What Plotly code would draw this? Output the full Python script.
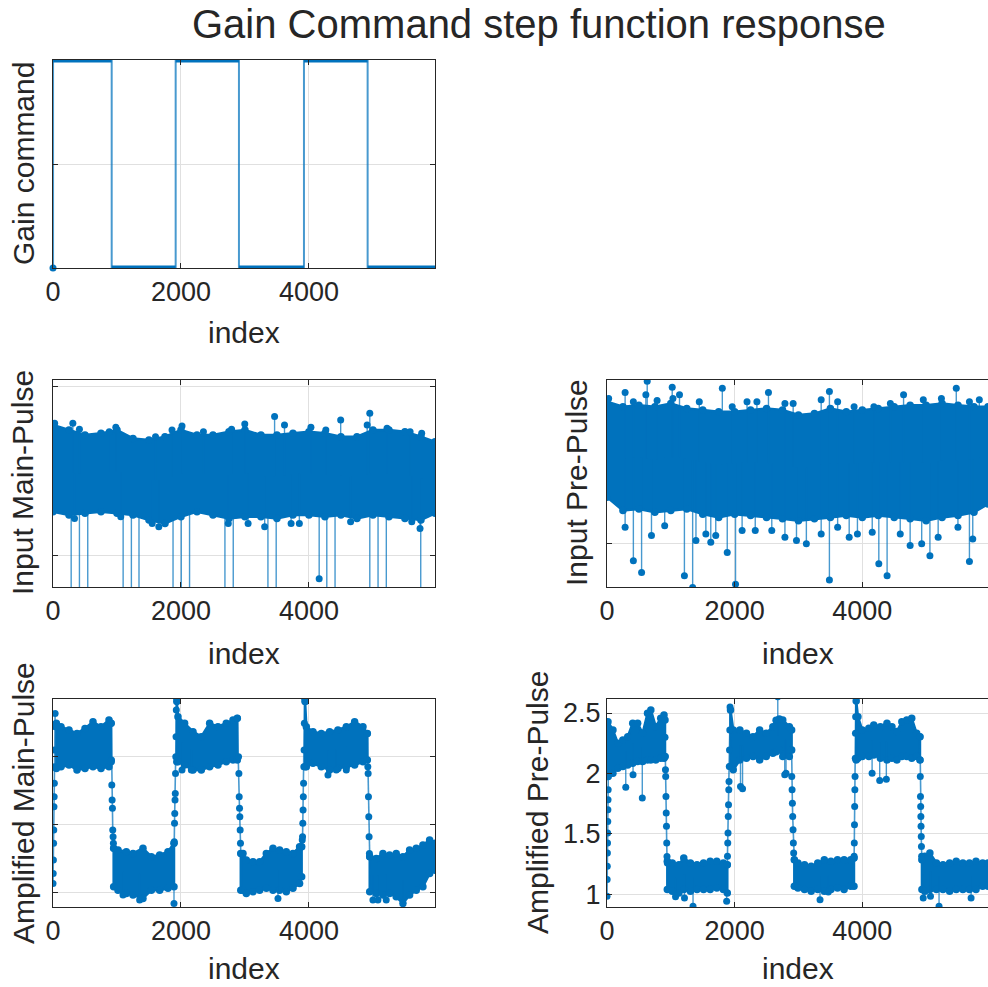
import numpy as np
import plotly.graph_objects as go

# ---------------- data ----------------
N_SAMPLES = 5970
x_tick_vals = [0, 2000, 4000]
x_tick_labels = ["0", "2000", "4000"]

# Panel 1: gain command (segment start index and level)
cmd_change_idx = [0, 1, 917, 1917, 2906, 3922, 4917]
cmd_level = [0, 1, 0, 1, 0, 1, 0]

# Panel 2: Input Main-Pulse (core band envelope)
in_main_idx = [0, 250, 500, 750, 1000, 1250, 1500, 1750, 2000, 2250, 2500, 2750, 3000,
               3250, 3500, 3750, 4000, 4250, 4500, 4750, 5000, 5250, 5500, 5750, 5970]
in_main_hi = [0.887, 0.872, 0.857, 0.862, 0.872, 0.847, 0.842, 0.852, 0.872, 0.857, 0.857, 0.867, 0.872,
              0.857, 0.857, 0.862, 0.867, 0.862, 0.852, 0.852, 0.872, 0.872, 0.867, 0.852, 0.837]
in_main_lo = [0.629, 0.619, 0.624, 0.629, 0.624, 0.619, 0.604, 0.594, 0.614, 0.629, 0.619, 0.609, 0.614,
              0.614, 0.609, 0.619, 0.619, 0.614, 0.619, 0.609, 0.619, 0.614, 0.609, 0.604, 0.624]
in_main_out_idx = [26, 310, 413, 879, 982, 1602, 1860, 2016, 2351, 2791, 2997, 3463, 3618, 4031, 4264,
                   4496, 4910, 4951, 5220, 5581, 5762,
                   336, 1059, 1550, 1654, 2739, 3049, 3308, 3721, 3850, 4651, 5607, 5736]
in_main_out_val = [0.892, 0.892, 0.874, 0.867, 0.880, 0.852, 0.872, 0.884, 0.867, 0.874, 0.890, 0.912, 0.887,
                   0.880, 0.872, 0.902, 0.887, 0.922, 0.877, 0.867, 0.862,
                   0.609, 0.614, 0.594, 0.584, 0.594, 0.594, 0.584, 0.594, 0.594, 0.599, 0.599, 0.579]
in_main_spike_idx = [284, 413, 543, 1096, 1225, 1344, 1876, 2005, 2134, 2687, 2817, 3359, 3488,
                     4160, 4279, 4408, 4951, 5080, 5209, 5747]
in_main_spike_val = [0.0, 0.0, 0.0, 0.0, 0.0, 0.0, 0.0, 0.0, 0.0, 0.0, 0.0, 0.0, 0.0,
                     0.429, 0.0, 0.0, 0.0, 0.0, 0.0, 0.0]

# Panel 3: Input Pre-Pulse
in_pre_idx = in_main_idx
in_pre_hi = [0.893, 0.879, 0.883, 0.879, 0.888, 0.874, 0.870, 0.865, 0.865, 0.870, 0.874, 0.870, 0.856,
             0.860, 0.874, 0.865, 0.870, 0.874, 0.879, 0.883, 0.883, 0.888, 0.883, 0.879, 0.879]
in_pre_lo = [0.629, 0.592, 0.596, 0.587, 0.592, 0.596, 0.582, 0.573, 0.582, 0.578, 0.573, 0.569, 0.564,
             0.569, 0.573, 0.578, 0.573, 0.578, 0.573, 0.569, 0.564, 0.573, 0.578, 0.587, 0.610]
in_pre_out_idx = [26, 284, 413, 609, 630, 785, 1022, 1033, 1136, 1446, 1807, 1962, 2194, 2349, 2530,
                  2788, 2917, 3356, 3485, 3614, 3872, 4182, 4440, 4647, 4956, 5240, 5473, 5679, 5834,
                  284, 413, 542, 697, 904, 1213, 1342, 1394, 1549, 1626, 1704, 1884, 2014, 2117, 2323,
                  2582, 2788, 2969, 3124, 3356, 3485, 3614, 3795, 3924, 4156, 4259, 4389, 4595, 4750,
                  4931, 5060, 5189, 5499, 5679, 5731]
in_pre_out_val = [0.902, 0.918, 0.893, 0.912, 0.949, 0.896, 0.933, 0.902, 0.912, 0.893, 0.930, 0.879,
                  0.893, 0.893, 0.918, 0.888, 0.888, 0.898, 0.921, 0.893, 0.879, 0.879, 0.888, 0.912,
                  0.898, 0.902, 0.930, 0.893, 0.898,
                  0.546, 0.453, 0.421, 0.523, 0.550, 0.412, 0.379, 0.509, 0.527, 0.504, 0.523, 0.476,
                  0.388, 0.537, 0.537, 0.537, 0.518, 0.509, 0.500, 0.527, 0.400, 0.546, 0.518, 0.527,
                  0.532, 0.445, 0.412, 0.527, 0.495, 0.500, 0.467, 0.518, 0.546, 0.451, 0.513]

# Panel 4: Amplified Main-Pulse (segments separated by None)
am_idx = [52, 125, 250, 375, 500, 625, 750, 875, 909, None,
          948, 1016, 1146, 1250, 1406, 1537, 1667, 1797, 1891, None,
          1935, 1953, 2057, 2188, 2318, 2448, 2578, 2708, 2813, 2880, None,
          2935, 2969, 3021, 3125, 3229, 3334, 3438, 3542, 3646, 3750, 3854, 3886, None,
          3940, 3959, 4063, 4193, 4323, 4453, 4584, 4714, 4844, 4912, None,
          4950, 5052, 5156, 5260, 5364, 5469, 5573, 5677, 5781, 5886, 5970]
am_hi = [2.240, 2.215, 2.191, 2.166, 2.203, 2.252, 2.215, 2.264, 2.240, None,
         1.321, 1.309, 1.296, 1.284, 1.321, 1.260, 1.272, 1.296, 1.358, None,
         2.400, 2.289, 2.240, 2.179, 2.142, 2.240, 2.215, 2.240, 2.264, 2.277, None,
         1.284, 1.284, 1.235, 1.223, 1.223, 1.284, 1.321, 1.309, 1.296, 1.284, 1.333, 1.333, None,
         2.400, 2.215, 2.179, 2.166, 2.179, 2.191, 2.215, 2.252, 2.215, 2.166, None,
         1.260, 1.247, 1.284, 1.272, 1.284, 1.260, 1.309, 1.321, 1.345, 1.382, 1.358]
am_lo = [1.909, 1.921, 1.934, 1.897, 1.909, 1.921, 1.909, 1.921, 1.958, None,
         1.039, 1.014, 0.990, 0.978, 0.953, 1.014, 1.014, 1.027, 1.039, None,
         1.958, 1.958, 1.934, 1.897, 1.897, 1.921, 1.934, 1.958, 1.970, 1.970, None,
         1.014, 1.014, 0.990, 1.002, 1.014, 1.027, 1.014, 1.014, 1.002, 1.027, 1.063, 1.112, None,
         1.921, 1.921, 1.946, 1.921, 1.897, 1.909, 1.921, 1.934, 1.958, 1.970, None,
         1.002, 0.990, 0.978, 0.990, 0.965, 0.916, 0.978, 1.014, 1.039, 1.137, 1.161]
am_tr_idx = [0, 3, 6, 9, 12, 15, 18, 21, 24, 27, 30, 33, None,
             909, 914, 919, 924, 929, 934, 939, 944, 948, None,
             1891, 1895, 1899, 1903, 1907, 1911, 1915, 1919, 1923, 1927, 1931, None,
             2880, 2900, 2905, 2910, 2915, 2920, 2925, 2930, 2935, None,
             3886, 3895, 3900, 3904, 3908, 3912, 3916, 3920, 3924, 3928, 3932, 3940, None,
             4912, 4920, 4925, 4930, 4935, 4940, 4945, 4950]
am_tr_val = [1.063, 1.137, 1.235, 1.358, 1.456, 1.627, 1.701, 1.799, 1.921, 2.044, 2.215, 2.313, None,
             2.240, 1.970, 1.786, 1.676, 1.615, 1.456, 1.407, 1.358, 1.321, None,
             1.358, 1.370, 1.505, 1.578, 1.676, 1.725, 1.872, 1.995, 2.142, 2.338, 2.424, None,
             2.277, 1.995, 1.872, 1.701, 1.615, 1.554, 1.456, 1.358, 1.284, None,
             1.333, 1.382, 1.407, 1.505, 1.603, 1.701, 1.799, 1.921, 2.044, 2.240, 2.424, 2.400, None,
             2.166, 1.921, 1.872, 1.701, 1.554, 1.407, 1.284, 1.260]
am_out_idx = [1094, 1354, 1891, 2016, 2162, 3516, 4297, 4427, 4584, 5000, 5078, 5208, 5469]
am_out_val = [0.978, 0.941, 0.916, 1.897, 1.897, 0.953, 1.860, 1.897, 1.897, 0.941, 0.941, 0.941, 0.867]

# Panel 5: Amplified Pre-Pulse
ap_idx = [15, 93, 170, 248, 325, 403, 480, 558, 635, 687, 764, 842, 893, 909, None,
          945, 1023, 1126, 1203, 1307, 1410, 1513, 1617, 1720, 1823, 1885, None,
          1935, 1978, 2082, 2185, 2288, 2392, 2495, 2599, 2650, 2700, 2754, 2857, 2893, None,
          2935, 2992, 3095, 3199, 3302, 3405, 3509, 3612, 3715, 3819, 3870, None,
          3905, 3932, 4000, 4103, 4180, 4284, 4387, 4465, 4542, 4620, 4697, 4775, 4852, 4904, None,
          4935, 4981, 5059, 5162, 5265, 5369, 5472, 5576, 5679, 5782, 5886, 5970]
ap_hi = [2.428, 2.359, 2.249, 2.277, 2.304, 2.415, 2.415, 2.332, 2.497, 2.525, 2.387, 2.456, 2.483, 2.442, None,
         1.271, 1.257, 1.244, 1.299, 1.257, 1.244, 1.257, 1.271, 1.271, 1.257, 1.244, None,
         2.525, 2.359, 2.359, 2.332, 2.304, 2.359, 2.332, 2.387, 2.440, 2.450, 2.442, 2.387, 2.359, None,
         1.285, 1.257, 1.244, 1.230, 1.257, 1.285, 1.271, 1.285, 1.285, 1.285, 1.299, None,
         2.600, 2.470, 2.359, 2.373, 2.401, 2.387, 2.415, 2.387, 2.346, 2.428, 2.442, 2.456, 2.332, 2.304, None,
         1.285, 1.313, 1.340, 1.257, 1.244, 1.257, 1.271, 1.257, 1.257, 1.271, 1.257, 1.257]
ap_lo = [1.974, 2.001, 2.043, 2.056, 2.070, 2.084, 2.098, 2.098, 2.111, 2.111, 2.111, 2.125, 2.125, 2.139, None,
         1.037, 1.023, 1.010, 1.037, 1.023, 1.037, 1.037, 1.037, 1.051, 1.037, 1.010, None,
         2.056, 2.029, 2.111, 2.125, 2.139, 2.111, 2.139, 2.166, 2.180, 2.194, 2.139, 2.139, 2.194, None,
         1.065, 1.051, 1.037, 1.023, 1.037, 1.023, 1.037, 1.051, 1.037, 1.065, 1.065, None,
         2.111, 2.125, 2.139, 2.139, 2.153, 2.125, 2.111, 2.125, 2.111, 2.139, 2.139, 2.125, 2.139, 2.111, None,
         1.037, 1.023, 1.037, 1.037, 1.037, 1.023, 1.037, 1.037, 1.037, 1.037, 1.065, 1.065]
ap_tr_idx = [0, 2, 4, 6, 8, 10, 12, 14, 16, 18, 20, None,
             909, 912, 916, 920, 924, 928, 932, 936, 940, 945, None,
             1885, 1888, 1892, 1896, 1900, 1904, 1908, 1912, 1916, 1920, 1924, 1928, 1935, None,
             2893, 2895, 2900, 2905, 2910, 2915, 2920, 2925, 2935, None,
             3870, 3872, 3875, 3878, 3881, 3884, 3887, 3890, 3893, 3896, 3899, None,
             4904, 4906, 4909, 4912, 4915, 4918, 4921, 4924, 4927, 4930, 4935]
ap_tr_val = [0.982, 1.120, 1.230, 1.340, 1.423, 1.505, 1.602, 1.698, 1.781, 1.864, 1.974, None,
             2.300, 2.139, 2.029, 1.974, 1.808, 1.671, 1.561, 1.423, 1.312, 1.257, None,
             1.244, 1.313, 1.423, 1.505, 1.643, 1.740, 1.864, 1.932, 2.056, 2.194, 2.359, 2.550, 2.525, None,
             2.194, 1.974, 1.864, 1.753, 1.643, 1.533, 1.423, 1.340, 1.285, None,
             1.299, 1.313, 1.423, 1.574, 1.726, 1.864, 1.974, 2.125, 2.332, 2.470, 2.635, None,
             2.304, 2.111, 1.974, 1.808, 1.726, 1.643, 1.561, 1.478, 1.395, 1.313, 1.285]
ap_out_idx = [294, 408, 553, 1074, 1214, 1348, 1875, 2092, 2124, 2676, 2785, 2805,
              3338, 3467, 4154, 4273, 4377, 4955, 5069, 5203, 5705]
ap_out_val = [1.886, 1.988, 1.795, 0.977, 0.968, 0.899, 0.941, 1.891, 1.872, 2.635, 1.988, 2.001,
              0.954, 1.018, 2.001, 1.941, 1.952, 0.968, 0.982, 0.899, 0.968]
ap_ytick_vals = [1, 1.5, 2, 2.5]
ap_ytick_labels = ["1", "1.5", "2", "2.5"]

# ---------------- style ----------------
BLUE = "#0072BD"
LBLUE = "rgba(0,114,189,0.72)"
FONT = "Liberation Sans, Arial, Helvetica, sans-serif"
TXT = "#262626"
W, H = 988, 987


def px_x(p):
    return p / W


def px_y(p):
    return 1 - p / H


def split_none(idx, *arrs):
    segs, cur = [], [[] for _ in range(1 + len(arrs))]
    for k, x in enumerate(idx):
        if x is None:
            if cur[0]:
                segs.append(cur)
            cur = [[] for _ in range(1 + len(arrs))]
        else:
            cur[0].append(x)
            for j, a in enumerate(arrs):
                cur[j + 1].append(a[k])
    if cur[0]:
        segs.append(cur)
    return segs


def band_traces(idx, hi, lo, xa, ya):
    xs, ys, mx, my = [], [], [], []
    for x, h, l in split_none(idx, hi, lo):
        xs += x + x[::-1] + [x[0], None]
        ys += h + l[::-1] + [h[0], None]
        mx += x + x
        my += h + l
    return [
        go.Scatter(x=xs, y=ys, fill="toself", fillcolor=BLUE, mode="lines",
                   line=dict(color=BLUE, width=2.5), xaxis=xa, yaxis=ya, hoverinfo="skip"),
        go.Scatter(x=mx, y=my, mode="markers", marker=dict(color=BLUE, size=7.5),
                   xaxis=xa, yaxis=ya, hoverinfo="skip"),
    ]


def stem_traces(idx, hi, lo, oidx, oval, xa, ya):
    pts = [(x, (h + l) / 2) for x, h, l in zip(idx, hi, lo) if x is not None]
    bx = np.array([p[0] for p in pts], float)
    by = np.array([p[1] for p in pts], float)
    sx, sy = [], []
    for x, v in zip(oidx, oval):
        base = float(np.interp(x, bx, by))
        sx += [x, x, None]
        sy += [base, v, None]
    return [
        go.Scatter(x=sx, y=sy, mode="lines", line=dict(color=LBLUE, width=1.4),
                   xaxis=xa, yaxis=ya, hoverinfo="skip"),
        go.Scatter(x=oidx, y=oval, mode="markers", marker=dict(color=BLUE, size=7),
                   xaxis=xa, yaxis=ya, hoverinfo="skip"),
    ]


def trans_trace(tidx, tval, xa, ya):
    return go.Scatter(x=tidx, y=tval, mode="lines+markers", line=dict(color=LBLUE, width=1.6),
                      marker=dict(color=BLUE, size=7), connectgaps=False,
                      xaxis=xa, yaxis=ya, hoverinfo="skip")


traces = []

# Panel 1
seg_end = cmd_change_idx[1:] + [N_SAMPLES]
hx, hy = [], []
for s, e, lv in zip(cmd_change_idx, seg_end, cmd_level):
    if e - s > 1:
        hx += [s, e, None]
        hy += [lv, lv, None]
vx, vy = [], []
for k in range(1, len(cmd_change_idx)):
    vx += [cmd_change_idx[k], cmd_change_idx[k], None]
    vy += [cmd_level[k - 1], cmd_level[k], None]
traces.append(go.Scatter(x=vx, y=vy, mode="lines", line=dict(color=LBLUE, width=2),
                         xaxis="x", yaxis="y", cliponaxis=False, hoverinfo="skip"))
traces.append(go.Scatter(x=hx, y=hy, mode="lines", line=dict(color=BLUE, width=5),
                         xaxis="x", yaxis="y", cliponaxis=False, hoverinfo="skip"))
traces.append(go.Scatter(x=[cmd_change_idx[0]], y=[cmd_level[0]], mode="markers",
                         marker=dict(color=BLUE, size=7), xaxis="x", yaxis="y",
                         cliponaxis=False, hoverinfo="skip"))

# Panel 2
traces += stem_traces(in_main_idx, in_main_hi, in_main_lo, in_main_spike_idx, in_main_spike_val, "x2", "y2")
traces += band_traces(in_main_idx, in_main_hi, in_main_lo, "x2", "y2")
traces += stem_traces(in_main_idx, in_main_hi, in_main_lo, in_main_out_idx, in_main_out_val, "x2", "y2")

# Panel 3
traces += band_traces(in_pre_idx, in_pre_hi, in_pre_lo, "x3", "y3")
traces += stem_traces(in_pre_idx, in_pre_hi, in_pre_lo, in_pre_out_idx, in_pre_out_val, "x3", "y3")

# Panel 4
traces += band_traces(am_idx, am_hi, am_lo, "x4", "y4")
traces.append(trans_trace(am_tr_idx, am_tr_val, "x4", "y4"))
traces += stem_traces(am_idx, am_hi, am_lo, am_out_idx, am_out_val, "x4", "y4")

# Panel 5
traces += band_traces(ap_idx, ap_hi, ap_lo, "x5", "y5")
traces.append(trans_trace(ap_tr_idx, ap_tr_val, "x5", "y5"))
traces += stem_traces(ap_idx, ap_hi, ap_lo, ap_out_idx, ap_out_val, "x5", "y5")

fig = go.Figure(traces)

LEFT = [px_x(53), px_x(435)]
RIGHT = [px_x(607), 1.0]
ROW1 = [px_y(268), px_y(60)]
ROW2 = [px_y(587), px_y(380)]
ROW3 = [px_y(907), px_y(699)]

common = dict(showline=True, linecolor=TXT, linewidth=1, ticks="inside", ticklen=5,
              tickcolor=TXT, tickwidth=1, showgrid=True, gridcolor="#E0E0E0", gridwidth=1,
              zeroline=False, tickfont=dict(family=FONT, size=27, color=TXT), fixedrange=True,
              automargin=False)


def xax(dom, anchor, mirror):
    return dict(common, domain=dom, anchor=anchor, range=[0, N_SAMPLES],
                tickvals=x_tick_vals, ticktext=x_tick_labels, mirror=mirror)


def yax(dom, anchor, rng, mirror, labels=False, dtick=0.5):
    d = dict(common, domain=dom, anchor=anchor, range=rng, mirror=mirror,
             tick0=0, dtick=dtick, showticklabels=labels)
    return d


fig.update_layout(
    width=W, height=H, autosize=False,
    margin=dict(l=0, r=0, t=0, b=0, pad=0, autoexpand=False),
    paper_bgcolor="white", plot_bgcolor="white",
    showlegend=False,
    xaxis=xax(LEFT, "y", "ticks"),
    yaxis=yax(ROW1, "x", [0, 1], "ticks"),
    xaxis2=xax(LEFT, "y2", "ticks"),
    yaxis2=yax(ROW2, "x2", [0.4048, 1.0208], "ticks"),
    xaxis3=xax(RIGHT, "y3", "ticks"),
    yaxis3=yax(ROW2, "x3", [0.3806, 0.9528], False),
    xaxis4=xax(LEFT, "y4", "ticks"),
    yaxis4=yax(ROW3, "x4", [0.890, 2.419], "ticks"),
    xaxis5=xax(RIGHT, "y5", "ticks"),
    yaxis5=dict(common, domain=ROW3, anchor="x5", range=[0.893, 2.616], mirror=False,
                tickvals=ap_ytick_vals, ticktext=ap_ytick_labels),
)

ann = []
ann.append(dict(text="Gain Command step function response", x=px_x(539), y=px_y(24),
                xref="paper", yref="paper", showarrow=False, xanchor="center", yanchor="middle",
                font=dict(family=FONT, size=40, color=TXT)))
for cx, cy in [(244, 333), (244, 653), (798, 653)]:
    ann.append(dict(text="index", x=px_x(cx), y=px_y(cy), xref="paper", yref="paper",
                    showarrow=False, xanchor="center", yanchor="middle",
                    font=dict(family=FONT, size=30, color=TXT)))
for cx in [244, 798]:
    ann.append(dict(text="index", x=px_x(cx), y=0.0, xref="paper", yref="paper",
                    showarrow=False, xanchor="center", yanchor="bottom",
                    font=dict(family=FONT, size=30, color=TXT)))
for txt, cx, cy in [("Gain command", 23, 164), ("Input Main-Pulse", 23, 483),
                    ("Input Pre-Pulse", 577, 483), ("Amplified Main-Pulse", 23, 803),
                    ("Amplified Pre-Pulse", 537, 803)]:
    ann.append(dict(text=txt, x=px_x(cx), y=px_y(cy), xref="paper", yref="paper",
                    showarrow=False, xanchor="center", yanchor="middle", textangle=-90,
                    font=dict(family=FONT, size=30, color=TXT)))
fig.update_layout(annotations=ann)

fig.write_html("out.html")
